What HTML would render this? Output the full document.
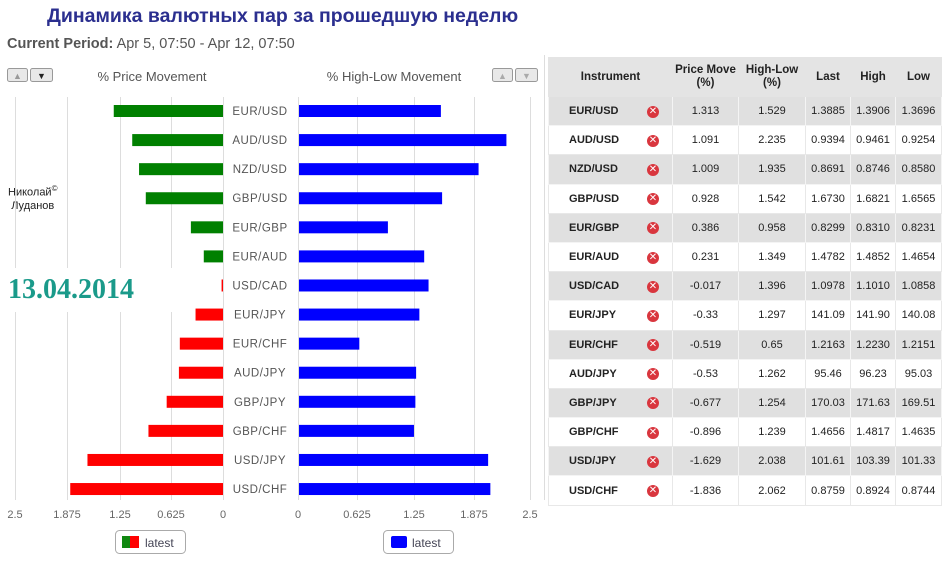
<!DOCTYPE html>
<html><head><meta charset="utf-8"><style>
body{margin:0;width:949px;height:565px;background:#fff;overflow:hidden;position:relative;font-family:"Liberation Sans","DejaVu Sans",sans-serif}
.t{position:absolute}
table{position:absolute;left:548px;top:57px;width:394px;border-collapse:collapse;font-size:11px;color:#222;border:1px solid #ccc}
td,th{text-align:center;padding:0;border:1px solid #e8e8e8}
th{height:38px;background:#e4e4e4;font-size:11.5px;font-weight:bold;line-height:13px;border-color:#e4e4e4}
td{height:28.2px}
tr.g td{background:#e0e0e0;border-color:#f4f4f4}
td.i{font-weight:bold;text-align:left;padding-left:20px}
.x{display:inline-block;width:12px;height:12px;border-radius:50%;background:#d9363e;color:#fff;font-size:10px;line-height:12px;font-weight:bold}
</style></head><body>
<div class="t" style="left:47px;top:5px;font-size:19.5px;font-weight:bold;color:#2b2f8f">Динамика валютных пар за прошедшую неделю</div>
<div class="t" style="left:7px;top:36px;font-size:14.5px;color:#555"><b>Current Period:</b> Apr 5, 07:50 - Apr 12, 07:50</div>
<div class="t" style="left:8px;top:182px;font-size:11px;color:#222;line-height:13px;text-align:center;background:#fff">Николай<sup style="font-size:8px">©</sup><br>Луданов</div>
<svg class="t" style="left:0;top:0" width="548" height="565" font-family="Liberation Sans,DejaVu Sans,sans-serif">
<g fill="#e8e8e8" stroke="#999" stroke-width="1">
<rect x="7.5" y="68.5" width="20" height="13" rx="2"/><rect x="30.5" y="68.5" width="22" height="13" rx="2"/>
<rect x="492.5" y="68.5" width="20" height="13" rx="2"/><rect x="515.5" y="68.5" width="22" height="13" rx="2"/></g>
<text x="17.5" y="79" font-size="9" fill="#999" text-anchor="middle">▲</text><text x="41.5" y="79" font-size="9" fill="#222" text-anchor="middle">▼</text>
<text x="502.5" y="79" font-size="9" fill="#aaa" text-anchor="middle">▲</text><text x="526.5" y="79" font-size="9" fill="#aaa" text-anchor="middle">▼</text>
<text x="152" y="81" font-size="13" fill="#555" text-anchor="middle">% Price Movement</text>
<text x="394" y="81" font-size="13" fill="#555" text-anchor="middle">% High-Low Movement</text>
<g stroke="#ddd" stroke-width="1">
<line x1="15.5" y1="97" x2="15.5" y2="500"/><line x1="67.5" y1="97" x2="67.5" y2="500"/><line x1="120.5" y1="97" x2="120.5" y2="500"/><line x1="171.5" y1="97" x2="171.5" y2="500"/>
<line x1="357.5" y1="97" x2="357.5" y2="500"/><line x1="414.5" y1="97" x2="414.5" y2="500"/><line x1="474.5" y1="97" x2="474.5" y2="500"/><line x1="530.5" y1="97" x2="530.5" y2="500"/>
<line x1="223.5" y1="97" x2="223.5" y2="500"/><line x1="298.5" y1="97" x2="298.5" y2="500"/></g>
<line x1="544.5" y1="55" x2="544.5" y2="500" stroke="#ddd"/>
<g id="bars"></g>
<g font-size="11" fill="#666" text-anchor="middle">
<text x="15" y="518">2.5</text><text x="67" y="518">1.875</text><text x="120" y="518">1.25</text><text x="171" y="518">0.625</text><text x="223" y="518">0</text>
<text x="298" y="518">0</text><text x="357" y="518">0.625</text><text x="414" y="518">1.25</text><text x="474" y="518">1.875</text><text x="530" y="518">2.5</text></g>
<rect x="115.5" y="530.5" width="70" height="23" rx="4" fill="#fff" stroke="#aaa"/>
<rect x="122" y="536" width="8" height="12" fill="#118811"/><rect x="130" y="536" width="9" height="12" fill="#f00"/>
<text x="145" y="547" font-size="12" fill="#445">latest</text>
<rect x="383.5" y="530.5" width="70" height="23" rx="4" fill="#fff" stroke="#aaa"/>
<rect x="391" y="536" width="16" height="12" rx="2" fill="#00f"/>
<text x="412" y="547" font-size="12" fill="#445">latest</text>
</svg>
<div class="t" style="left:3px;top:268px;width:172px;height:44px;background:#fff"></div>
<div class="t" style="left:8px;top:274px;font-family:'Liberation Serif',serif;font-weight:bold;font-size:28px;color:#1a9a8a">13.04.2014</div>
<table>
<tr><th colspan="2">Instrument</th><th>Price Move<br>(%)</th><th>High-Low<br>(%)</th><th>Last</th><th>High</th><th>Low</th></tr>
</table>
<script>
var d=[["EUR/USD",1.313,1.529,"1.3885","1.3906","1.3696"],["AUD/USD",1.091,2.235,"0.9394","0.9461","0.9254"],["NZD/USD",1.009,1.935,"0.8691","0.8746","0.8580"],["GBP/USD",0.928,1.542,"1.6730","1.6821","1.6565"],["EUR/GBP",0.386,0.958,"0.8299","0.8310","0.8231"],["EUR/AUD",0.231,1.349,"1.4782","1.4852","1.4654"],["USD/CAD",-0.017,1.396,"1.0978","1.1010","1.0858"],["EUR/JPY",-0.33,1.297,"141.09","141.90","140.08"],["EUR/CHF",-0.519,0.65,"1.2163","1.2230","1.2151"],["AUD/JPY",-0.53,1.262,"95.46","96.23","95.03"],["GBP/JPY",-0.677,1.254,"170.03","171.63","169.51"],["GBP/CHF",-0.896,1.239,"1.4656","1.4817","1.4635"],["USD/JPY",-1.629,2.038,"101.61","103.39","101.33"],["USD/CHF",-1.836,2.062,"0.8759","0.8924","0.8744"]];
var s="",t=document.querySelector("table");
d.forEach(function(r,i){var y=111+i*29.08;var w=Math.max(1,Math.abs(r[1])*83.2);
s+='<rect x="'+(223-w)+'" y="'+(y-6)+'" width="'+w+'" height="12" fill="'+(r[1]>=0?'#008000':'#f00')+'"/>';
s+='<rect x="299" y="'+(y-6)+'" width="'+(r[2]*92.8)+'" height="12" fill="#00f"/>';
s+='<text x="260" y="'+(y+4)+'" font-size="11.5" fill="#555" text-anchor="middle" letter-spacing="0.5">'+r[0]+'</text>';
var tr=document.createElement("tr");if(i%2==0)tr.className="g";
tr.innerHTML='<td class="i" style="border-right:none">'+r[0]+'</td><td style="border-left:none;width:38px"><span class="x">✕</span></td><td style="width:65px">'+r[1]+'</td><td style="width:66px">'+r[2]+'</td><td style="width:44px">'+r[3]+'</td><td style="width:44px">'+r[4]+'</td><td style="width:45px">'+r[5]+'</td>';
t.appendChild(tr);});
document.getElementById("bars").innerHTML=s;
</script>
</body></html>
